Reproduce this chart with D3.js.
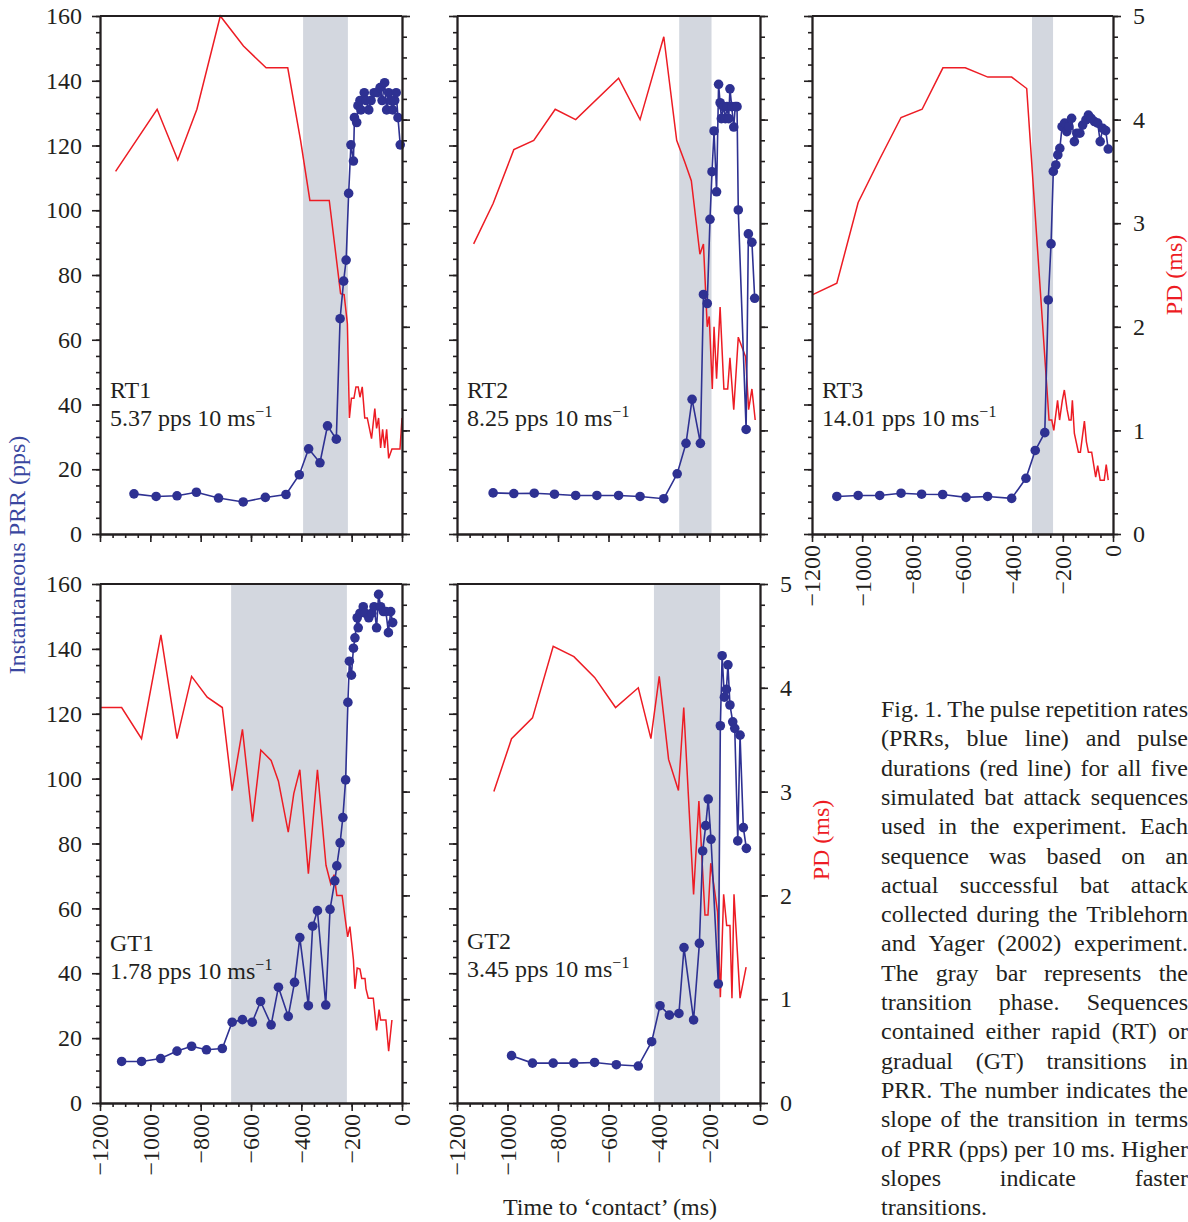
<!DOCTYPE html>
<html>
<head>
<meta charset="utf-8">
<script src="https://cdn.jsdelivr.net/npm/d3@7"></script>
<style>
  body { margin: 0; background: #fff; }
  svg { display: block; }
</style>
</head>
<body>
<script>
// time to contact (ms) and PRR (pps) for each sequence
var rt1Time = [-1065,-977,-894,-817,-729,-631,-543,-461,-408,-371,-326,-296,-261,-246,-232,-222,-212,-203,-193,-189,-180,-175,-167,-163,-150,-143,-132,-123,-111,-98,-87,-79,-69,-61,-53,-45,-37,-29,-23,-16,-7];
var rt1Prr = [12.4,11.6,11.8,12.9,11.1,9.9,11.3,12.2,18.3,26.3,22.0,33.4,29.3,66.5,78.1,84.6,105.2,120.2,115.2,128.6,127.1,132.3,133.9,131.0,136.3,133.9,131.0,133.9,136.3,136.3,137.9,133.9,139.4,131.0,136.3,133.9,131.0,133.9,136.3,128.6,120.2];
var rt1PdTime = [-1138,-973,-891,-815,-722,-630,-540,-454,-403,-366,-289,-244,-230,-217,-209,-201,-191,-183,-174,-167,-158,-148,-138,-121,-108,-101,-93,-85,-77,-69,-61,-53,-40,-8,0];
var rt1Pd = [3.50,4.10,3.61,4.10,5.0,4.71,4.50,4.50,3.80,3.22,3.22,2.32,2.31,2.03,1.12,1.31,1.31,1.42,1.42,1.32,1.42,1.12,1.12,0.92,1.21,1.02,1.12,0.83,1.01,0.83,1.01,0.73,0.82,0.82,1.12];

var rt2Time = [-1057,-975,-894,-814,-730,-646,-560,-475,-381,-328,-293,-269,-236,-224,-209,-198,-190,-182,-172,-164,-158,-153,-145,-137,-131,-124,-119,-112,-104,-98,-91,-86,-55,-46,-32,-21];
var rt2Prr = [12.7,12.5,12.6,12.3,11.9,11.9,11.9,11.6,10.9,18.6,28.0,41.6,28.0,74.0,71.2,97.2,111.9,124.5,105.7,138.9,133.2,128.3,132.0,128.3,132.0,128.3,137.5,132.0,125.7,132.0,132.0,100.1,32.3,92.7,90.1,72.8];
var rt2PdTime = [-1134,-1057,-975,-896,-811,-730,-560,-475,-381,-330,-298,-272,-238,-224,-209,-201,-189,-182,-172,-158,-143,-128,-119,-104,-86,-57,-45,-32,-19];
var rt2Pd = [2.80,3.19,3.71,3.80,4.10,4.00,4.40,4.00,4.80,3.80,3.59,3.41,2.70,2.80,2.00,2.10,1.40,2.00,1.50,2.19,1.40,1.40,1.70,1.20,1.90,1.71,1.20,1.40,1.10];

var rt3Time = [-1101,-1016,-930,-845,-763,-679,-586,-500,-404,-347,-310,-272,-258,-247,-238,-228,-220,-212,-203,-193,-184,-176,-165,-154,-144,-132,-121,-108,-98,-87,-74,-61,-51,-41,-29,-19];
var rt3Prr = [11.6,11.9,11.9,12.6,12.3,12.2,11.3,11.6,11.0,17.2,25.8,31.3,72.3,89.6,112.0,114.0,117.1,119.1,125.8,126.9,124.3,125.8,128.4,121.2,123.8,123.8,126.3,127.9,129.4,128.4,127.4,126.9,121.2,125.3,124.6,118.9];
var rt3PdTime = [-1197,-1101,-1016,-930,-845,-761,-678,-589,-499,-404,-344,-255,-244,-236,-221,-213,-202,-194,-183,-175,-167,-162,-154,-138,-130,-114,-106,-98,-85,-69,-61,-51,-35,-27,-19];
var rt3Pd = [2.31,2.42,3.20,3.62,4.02,4.10,4.50,4.50,4.41,4.41,4.30,1.10,1.10,1.00,1.29,1.10,1.29,1.39,1.20,1.10,1.10,1.29,0.97,0.79,0.79,1.09,0.89,0.79,0.79,0.55,0.66,0.52,0.52,0.67,0.52];

var gt1Time = [-1114,-1035,-959,-894,-836,-777,-714,-675,-634,-595,-562,-520,-491,-452,-427,-406,-372,-355,-336,-303,-286,-267,-259,-246,-235,-224,-215,-209,-201,-193,-187,-178,-174,-167,-154,-146,-132,-120,-111,-101,-93,-85,-74,-64,-54,-45,-37];
var gt1Prr = [12.8,12.8,13.7,16.0,17.5,16.4,16.8,24.9,25.7,24.9,31.3,24.1,35.7,26.7,37.2,51.0,30.0,54.5,59.3,30.2,59.7,68.5,73.1,80.2,88.0,99.6,123.5,136.2,131.9,140.2,143.4,149.6,146.5,151.0,153.0,151.0,149.6,151.0,153.0,146.5,156.8,153.0,151.5,151.5,145.0,151.5,148.1];
var gt1PdTime = [-1200,-1114,-1035,-958,-894,-836,-774,-714,-675,-634,-594,-561,-520,-491,-452,-430,-406,-372,-336,-302,-283,-277,-270,-259,-238,-216,-207,-193,-187,-178,-167,-160,-147,-143,-134,-114,-101,-91,-85,-64,-53,-40];
var gt1Pd = [3.81,3.81,3.51,4.51,3.51,4.11,3.91,3.81,3.01,3.60,2.71,3.40,3.30,3.10,2.61,2.98,3.21,2.21,3.21,2.29,2.11,2.15,2.20,2.00,2.00,1.60,1.70,1.38,1.10,1.30,1.29,1.20,1.20,1.10,1.01,1.01,0.70,0.90,0.80,0.80,0.50,0.80];

var gt2Time = [-984,-901,-819,-737,-655,-569,-482,-429,-396,-359,-321,-301,-263,-240,-227,-215,-205,-194,-165,-157,-150,-141,-133,-127,-119,-108,-100,-88,-79,-66,-54];
var gt2Prr = [14.6,12.3,12.3,12.3,12.5,11.8,11.4,18.9,30.0,27.1,27.6,47.9,25.6,49.2,77.7,85.5,93.7,81.3,36.7,116.3,137.9,125.1,127.5,135.1,122.7,117.5,115.5,80.8,113.4,84.9,78.5];
var gt2PdTime = [-1054,-984,-901,-819,-737,-655,-572,-482,-432,-399,-362,-323,-302,-263,-242,-218,-206,-195,-168,-157,-144,-132,-119,-111,-103,-79,-55];
var gt2Pd = [3.00,3.51,3.71,4.40,4.30,4.10,3.81,4.00,3.51,4.11,3.31,3.01,3.81,2.01,2.91,1.81,1.81,2.31,1.84,1.02,2.01,1.71,1.71,1.01,2.01,1.01,1.31];

// transition phase (gray bar), ms
var rt1Shade = [-393,-215];
var rt2Shade = [-320,-192];
var rt3Shade = [-323,-239];
var gt1Shade = [-679,-219];
var gt2Shade = [-420,-158];

var names = ["RT1","RT2","RT3","GT1","GT2"];
var slopes = ["5.37","8.25","14.01","1.78","3.45"];

var prrTicks = [0,20,40,60,80,100,120,140,160];
var pdTicks = [0,1,2,3,4,5];
var timeTicks = [-1200,-1000,-800,-600,-400,-200,0];

var captionLines = [
    "Fig. 1. The pulse repetition rates",
    "(PRRs, blue line) and pulse",
    "durations (red line) for all five",
    "simulated bat attack sequences",
    "used in the experiment. Each",
    "sequence was based on an",
    "actual successful bat attack",
    "collected during the Triblehorn",
    "and Yager (2002) experiment.",
    "The gray bar represents the",
    "transition phase. Sequences",
    "contained either rapid (RT) or",
    "gradual (GT) transitions in",
    "PRR. The number indicates the",
    "slope of the transition in terms",
    "of PRR (pps) per 10 ms. Higher",
    "slopes indicate faster",
    "transitions."
];

var FONT = "'Liberation Serif', 'Times New Roman', serif";
var FS = 24;
var INK = "#231f20";
var BLUE = "#2e3192";
var RED = "#ed1c24";

var svg = d3.select("body").append("svg")
        .attr("width", 1188)
        .attr("height", 1222)
        .style("background", "#fff");

var cols = [[100, 402], [457, 760], [812, 1113]];
var rows = [[534, 16], [1103, 584]];

var panels = [
    {t: rt1Time, prr: rt1Prr, pdT: rt1PdTime, pd: rt1Pd, shade: rt1Shade, col: 0, row: 0, left: true,  right: false, bottom: false},
    {t: rt2Time, prr: rt2Prr, pdT: rt2PdTime, pd: rt2Pd, shade: rt2Shade, col: 1, row: 0, left: false, right: false, bottom: false},
    {t: rt3Time, prr: rt3Prr, pdT: rt3PdTime, pd: rt3Pd, shade: rt3Shade, col: 2, row: 0, left: false, right: true,  bottom: true},
    {t: gt1Time, prr: gt1Prr, pdT: gt1PdTime, pd: gt1Pd, shade: gt1Shade, col: 0, row: 1, left: true,  right: false, bottom: true},
    {t: gt2Time, prr: gt2Prr, pdT: gt2PdTime, pd: gt2Pd, shade: gt2Shade, col: 1, row: 1, left: false, right: true,  bottom: true}
];

function styleAxis(g){
    g.attr("font-family", FONT).attr("font-size", FS);
    g.selectAll("text").attr("fill", INK);
    g.selectAll("line").attr("stroke", INK).attr("stroke-width", 1.6);
    g.select(".domain").attr("stroke", INK).attr("stroke-width", 1.8);
}

panels.forEach(function(p, i){
    var x = d3.scaleLinear().domain([-1200, 0]).range(cols[p.col]);
    var y = d3.scaleLinear().domain([0, 160]).range(rows[p.row]);
    var yPd = d3.scaleLinear().domain([0, 5]).range(rows[p.row]);
    var x0 = cols[p.col][0], x1 = cols[p.col][1];
    var yb = rows[p.row][0], yt = rows[p.row][1];

    var g = svg.append("g");

    // gray transition bar
    g.append("rect")
        .attr("x", x(p.shade[0]))
        .attr("y", yt)
        .attr("width", x(p.shade[1]) - x(p.shade[0]))
        .attr("height", yb - yt)
        .attr("fill", "#d3d7df");

    // pulse duration
    var pdLine = d3.line()
        .x(function(d, k){ return x(p.pdT[k]); })
        .y(function(d){ return yPd(d); });
    g.append("path")
        .attr("d", pdLine(p.pd))
        .attr("fill", "none")
        .attr("stroke", RED)
        .attr("stroke-width", 1.5);

    // PRR
    var prrLine = d3.line()
        .x(function(d, k){ return x(p.t[k]); })
        .y(function(d){ return y(d); });
    g.append("path")
        .attr("d", prrLine(p.prr))
        .attr("fill", "none")
        .attr("stroke", BLUE)
        .attr("stroke-width", 1.6);
    g.selectAll("circle.prr")
        .data(p.prr)
        .enter().append("circle")
        .attr("class", "prr")
        .attr("cx", function(d, k){ return x(p.t[k]); })
        .attr("cy", function(d){ return y(d); })
        .attr("r", 4.8)
        .attr("fill", BLUE);

    // axes: minor then major ticks
    g.append("g").attr("transform", "translate(" + x0 + ",0)")
        .call(d3.axisLeft(y).tickValues(d3.range(0, 161, 5)).tickSize(4).tickSizeOuter(0).tickFormat(""))
        .call(styleAxis);
    g.append("g").attr("transform", "translate(" + x0 + ",0)")
        .call(d3.axisLeft(y).tickValues(prrTicks).tickSize(8).tickSizeOuter(0).tickPadding(10)
            .tickFormat(p.left ? d3.format("d") : ""))
        .call(styleAxis);

    g.append("g").attr("transform", "translate(" + x1 + ",0)")
        .call(d3.axisRight(yPd).tickValues(d3.range(0, 5.01, 0.2)).tickSize(5).tickSizeOuter(0).tickFormat(""))
        .call(styleAxis);
    g.append("g").attr("transform", "translate(" + x1 + ",0)")
        .call(d3.axisRight(yPd).tickValues(pdTicks).tickSize(8).tickSizeOuter(0).tickPadding(12)
            .tickFormat(p.right ? d3.format("d") : ""))
        .call(styleAxis);

    g.append("g").attr("transform", "translate(0," + yb + ")")
        .call(d3.axisBottom(x).tickValues(d3.range(-1200, 1, 50)).tickSize(4).tickSizeOuter(0).tickFormat(""))
        .call(styleAxis);
    var xb = g.append("g").attr("transform", "translate(0," + yb + ")")
        .call(d3.axisBottom(x).tickValues(timeTicks).tickSize(8).tickSizeOuter(0)
            .tickFormat(p.bottom ? d3.format("d") : ""))
        .call(styleAxis);
    xb.selectAll(".tick text")
        .attr("transform", "rotate(-90)")
        .attr("x", -11)
        .attr("y", 0)
        .attr("dy", "0.33em")
        .style("text-anchor", "end");

    // top frame line
    g.append("line")
        .attr("x1", x0).attr("x2", x1)
        .attr("y1", yt).attr("y2", yt)
        .attr("stroke", INK)
        .attr("stroke-width", 1.8);

    // sequence name and slope
    var lab = g.append("text")
        .attr("font-family", FONT)
        .attr("font-size", FS)
        .attr("fill", INK);
    var ly = p.row === 0 ? 398 : (p.col === 0 ? 951 : 949);
    lab.append("tspan").attr("x", x0 + 10).attr("y", ly).text(names[i]);
    lab.append("tspan").attr("x", x0 + 10).attr("y", ly + 28).text(slopes[i] + " pps 10 ms");
    lab.append("tspan").attr("dy", -9).attr("font-size", 16).text("\u22121");
});

// axis titles
svg.append("text")
    .attr("transform", "translate(25,555) rotate(-90)")
    .attr("text-anchor", "middle")
    .attr("font-family", FONT)
    .attr("font-size", FS)
    .attr("fill", "#3a47a0")
    .text("Instantaneous PRR (pps)");

[[1182, 275], [829, 840]].forEach(function(pos){
    svg.append("text")
        .attr("transform", "translate(" + pos[0] + "," + pos[1] + ") rotate(-90)")
        .attr("text-anchor", "middle")
        .attr("font-family", FONT)
        .attr("font-size", FS)
        .attr("fill", RED)
        .text("PD (ms)");
});

svg.append("text")
    .attr("x", 610)
    .attr("y", 1215)
    .attr("text-anchor", "middle")
    .attr("font-family", FONT)
    .attr("font-size", FS)
    .attr("fill", INK)
    .text("Time to \u2018contact\u2019 (ms)");

// justified caption
var capX0 = 881, capX1 = 1188, capY0 = 717, capStep = 29.3;
var probe = svg.append("text")
    .attr("font-family", FONT)
    .attr("font-size", FS)
    .attr("visibility", "hidden");
function wordWidth(w){
    probe.text(w);
    return probe.node().getComputedTextLength();
}
captionLines.forEach(function(line, i){
    var t = svg.append("text")
        .attr("font-family", FONT)
        .attr("font-size", FS)
        .attr("fill", INK)
        .attr("y", capY0 + i * capStep);
    if (i === captionLines.length - 1){
        t.attr("x", capX0).text(line);
        return;
    }
    var words = line.split(" ");
    var widths = words.map(wordWidth);
    var gap = (capX1 - capX0 - d3.sum(widths)) / (words.length - 1);
    var cx = capX0;
    words.forEach(function(w, k){
        t.append("tspan").attr("x", cx).text(w);
        cx += widths[k] + gap;
    });
});
probe.remove();
</script>
</body>
</html>
